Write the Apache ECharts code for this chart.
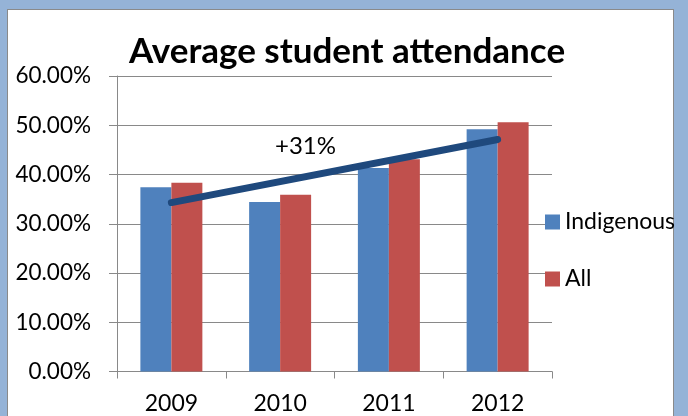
<!DOCTYPE html>
<html>
<head>
<meta charset="utf-8">
<script src="https://cdn.jsdelivr.net/npm/echarts@6/dist/echarts.min.js"></script>
<style>
html,body{margin:0;padding:0;width:688px;height:416px;overflow:hidden;background:#95b3d7;}
#frame{position:absolute;left:7px;top:9px;width:667px;height:420px;background:#fff;border:1px solid #8a8a8a;box-sizing:border-box;}
#chart{position:absolute;left:0;top:0;width:688px;height:416px;}
</style>
</head>
<body>
<div id="frame"></div>
<div id="chart"></div>
<script>
const categories = ['2009', '2010', '2011', '2012'];
const indigenous = [37.4, 34.4, 41.3, 49.2];
const all = [38.3, 35.9, 43.1, 50.6];
const trend = [34.3, '-', '-', 47.1];
const trendLabel = '+31%';
const yTicks = { min: 0, max: 60, interval: 10 };

const FONT = 'Lato';
const chart = echarts.init(document.getElementById('chart'), null, { renderer: 'canvas' });
chart.setOption({
  backgroundColor: 'transparent',
  animation: false,
  title: {
    text: 'Average student attendance',
    left: 342, top: 29, textAlign: 'center',
    textStyle: { fontFamily: FONT, fontWeight: 'bold', fontSize: 35, color: '#000' }
  },
  legend: {
    orient: 'vertical', left: 540, top: 205,
    itemWidth: 15, itemHeight: 15, itemGap: 33,
    icon: 'rect',
    textStyle: { fontFamily: FONT, fontSize: 23, color: '#000', lineHeight: 24 },
    data: ['Indigenous', 'All']
  },
  grid: { left: 117, right: 136, top: 76, bottom: 44.5, containLabel: false },
  xAxis: {
    type: 'category', data: categories,
    axisLine: { lineStyle: { color: '#898989', width: 1 } },
    axisTick: { show: true, length: 7, lineStyle: { color: '#898989' } },
    axisLabel: { fontFamily: FONT, fontSize: 23, color: '#000', margin: 21 }
  },
  yAxis: {
    type: 'value', min: yTicks.min, max: yTicks.max, interval: yTicks.interval,
    axisLine: { show: true, lineStyle: { color: '#898989', width: 1 } },
    axisTick: { show: true, length: 8, lineStyle: { color: '#898989' } },
    splitLine: { lineStyle: { color: '#898989', width: 1 } },
    axisLabel: { fontFamily: FONT, fontSize: 22.5, color: '#000', margin: 26,
      formatter: v => v.toFixed(2) + '%' }
  },
  series: [
    { name: 'Indigenous', type: 'bar', data: indigenous, barGap: '0%', barCategoryGap: '43%',
      itemStyle: { color: '#4f81bd' } },
    { name: 'All', type: 'bar', data: all, barGap: '0%', barCategoryGap: '43%',
      itemStyle: { color: '#c0504d' } },
    { name: 'trend', type: 'line', data: trend, connectNulls: true, symbol: 'none',
      lineStyle: { color: '#1f497d', width: 7, cap: 'round' }, z: 5,
      legendHoverLink: false }
  ],
  graphic: [
    { type: 'text', left: 275, top: 134,
      style: { text: trendLabel, fontFamily: FONT, fontSize: 24, fill: '#000' } }
  ]
});
</script>
</body>
</html>
